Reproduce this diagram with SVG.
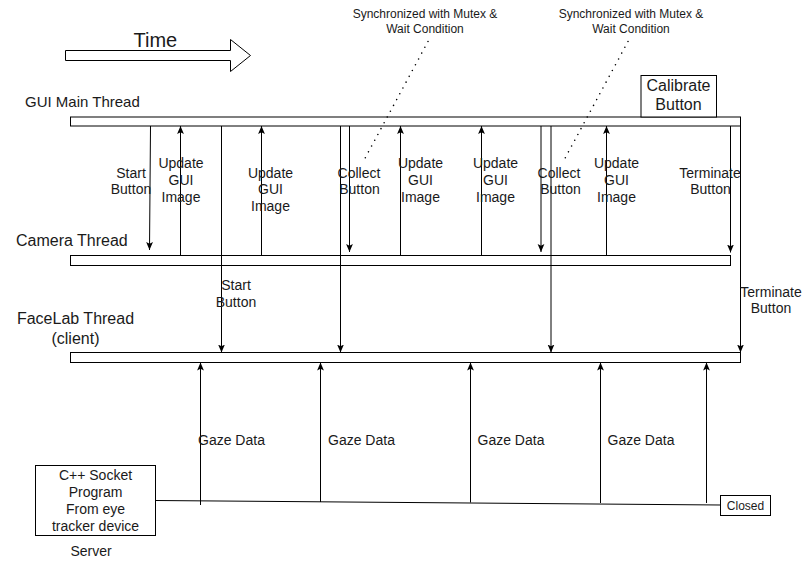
<svg xmlns="http://www.w3.org/2000/svg" width="810" height="565" viewBox="0 0 810 565">
<style>
text{font-family:"Liberation Sans",Arial,sans-serif;fill:#1a1a1a}
.bar{fill:#fff;stroke:#000;stroke-width:1}
.box{fill:#fff;stroke:#000;stroke-width:1}
.ln{stroke:#000;stroke-width:1;fill:none}
.arr{marker-end:url(#ah)}
.dot{stroke:#000;stroke-width:1.6;stroke-dasharray:0 6.6;stroke-linecap:round;fill:none}
.l14{font-size:14px;text-anchor:middle}
.g14{font-size:14px}
.t16{font-size:16px}
.s12{font-size:12px;text-anchor:middle}
</style>
<defs>
<marker id="ah" markerUnits="userSpaceOnUse" markerWidth="8" markerHeight="8" viewBox="0 0 8 8" refX="8" refY="4" orient="auto">
<path d="M0,0.6 L8,4 L0,7.4 L1.8,4 Z" fill="#000"/>
</marker>
</defs>
<rect width="810" height="565" fill="#fff"/>

<g id="time">
<polygon class="box" points="65.5,50.5 230.5,50.5 230.5,39.5 250.5,55.5 230.5,71.5 230.5,60.5 65.5,60.5"/>
<text x="133.5" y="46.5" style="font-size:20px">Time</text>
</g>

<g id="sync1">
<text class="s12" x="425" y="18">Synchronized with Mutex &amp;</text>
<text class="s12" x="425" y="32.5">Wait Condition</text>
</g>
<g id="sync2">
<text class="s12" x="631" y="18">Synchronized with Mutex &amp;</text>
<text class="s12" x="631" y="32.5">Wait Condition</text>
</g>

<g id="gui-thread">
<text x="25" y="107" style="font-size:15px">GUI Main Thread</text>
<rect class="bar" x="70.5" y="117" width="670" height="9"/>
</g>

<g id="calibrate">
<rect class="box" x="641" y="75.5" width="75.5" height="41.5"/>
<text x="678.5" y="90.5" style="font-size:16px;text-anchor:middle">Calibrate</text>
<text x="678.5" y="110" style="font-size:16px;text-anchor:middle">Button</text>
</g>

<g id="camera-thread">
<text class="t16" x="16" y="245.5">Camera Thread</text>
<rect class="bar" x="70.5" y="255.5" width="660" height="10"/>
</g>

<g id="facelab-thread">
<text class="t16" x="75.5" y="324" text-anchor="middle">FaceLab Thread</text>
<text class="t16" x="75.5" y="343.5" text-anchor="middle">(client)</text>
<rect class="bar" x="70.5" y="352.5" width="670" height="10"/>
</g>

<g id="server">
<rect class="box" x="35.5" y="465.5" width="120" height="70"/>
<text class="l14" x="95.5" y="480">C++ Socket</text>
<text class="l14" x="95.5" y="497">Program</text>
<text class="l14" x="95.5" y="514">From eye</text>
<text class="l14" x="95.5" y="530.5">tracker device</text>
<text class="l14" x="91" y="556">Server</text>
</g>

<g id="closed">
<rect class="box" x="720.5" y="495.5" width="50" height="20"/>
<text class="s12" x="745.5" y="509.5">Closed</text>
</g>

<g id="connectors">
<line class="ln arr" x1="150.5" y1="126" x2="149.5" y2="250"/>
<line class="ln arr" x1="180.5" y1="255.5" x2="180.5" y2="126"/>
<line class="ln arr" x1="221.5" y1="126" x2="221.5" y2="352.5"/>
<line class="ln arr" x1="261.5" y1="255.5" x2="261.5" y2="126"/>
<line class="ln arr" x1="340.5" y1="126" x2="340.5" y2="352.5"/>
<line class="ln arr" x1="349.5" y1="126" x2="349.5" y2="252"/>
<line class="ln arr" x1="400.5" y1="255.5" x2="400.5" y2="126"/>
<line class="ln arr" x1="481.5" y1="255.5" x2="481.5" y2="126"/>
<line class="ln arr" x1="541" y1="126" x2="541" y2="252"/>
<line class="ln arr" x1="551" y1="126" x2="551" y2="352.5"/>
<line class="ln arr" x1="606.5" y1="255.5" x2="606.5" y2="126"/>
<line class="ln arr" x1="730.5" y1="126" x2="730.5" y2="252.5"/>
<line class="ln arr" x1="740.5" y1="126" x2="740.5" y2="352.5"/>

<polyline class="ln" points="155.5,500.5 720.5,505"/>
<line class="ln arr" x1="200.5" y1="505" x2="200.5" y2="362.5"/>
<line class="ln arr" x1="320.5" y1="502" x2="320.5" y2="362.5"/>
<line class="ln arr" x1="470.5" y1="502.5" x2="470.5" y2="362.5"/>
<line class="ln arr" x1="600.5" y1="503" x2="600.5" y2="362.5"/>
<line class="ln arr" x1="706.5" y1="503" x2="706.5" y2="362.5"/>

<line class="dot" x1="428" y1="41.5" x2="363" y2="162"/>
<line class="dot" x1="628" y1="41.5" x2="563" y2="162"/>

<text class="l14" x="131" y="177.5">Start</text>
<text class="l14" x="131" y="194">Button</text>
<text class="l14" x="181" y="168.3">Update</text>
<text class="l14" x="181" y="185">GUI</text>
<text class="l14" x="181" y="201.7">Image</text>
<text class="l14" x="270.5" y="177.7">Update</text>
<text class="l14" x="270.5" y="194.3">GUI</text>
<text class="l14" x="270.5" y="211">Image</text>
<text class="l14" x="359" y="177.5">Collect</text>
<text class="l14" x="359.5" y="194">Button</text>
<text class="l14" x="420.5" y="168.3">Update</text>
<text class="l14" x="420.5" y="185">GUI</text>
<text class="l14" x="420.5" y="201.7">Image</text>
<text class="l14" x="495.5" y="168.3">Update</text>
<text class="l14" x="495.5" y="185">GUI</text>
<text class="l14" x="495.5" y="201.7">Image</text>
<text class="l14" x="559" y="177.5">Collect</text>
<text class="l14" x="560.5" y="194">Button</text>
<text class="l14" x="616.5" y="168.3">Update</text>
<text class="l14" x="616.5" y="185">GUI</text>
<text class="l14" x="616.5" y="201.7">Image</text>
<text class="l14" x="710" y="177.5">Terminate</text>
<text class="l14" x="710.5" y="194">Button</text>
<text class="l14" x="236" y="290">Start</text>
<text class="l14" x="236" y="306.7">Button</text>
<text class="l14" x="771" y="296.7">Terminate</text>
<text class="l14" x="771" y="313.3">Button</text>
<text class="g14" x="198" y="445">Gaze Data</text>
<text class="g14" x="328" y="445">Gaze Data</text>
<text class="g14" x="477.5" y="445">Gaze Data</text>
<text class="g14" x="607.5" y="445">Gaze Data</text>
</g>
</svg>
